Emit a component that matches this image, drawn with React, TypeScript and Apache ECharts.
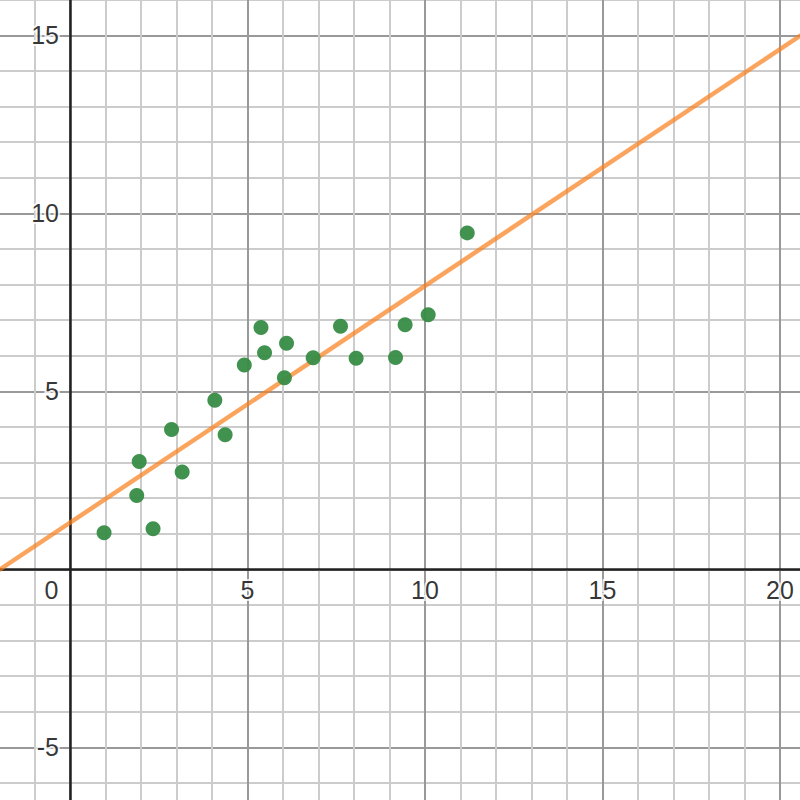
import * as echarts from 'echarts';
import { useEffect, useRef } from 'react';
import type { ECharts } from 'echarts';

// scatter points
const pointsX = [
  0.96, 1.88, 1.95, 2.34, 2.86, 3.16, 4.08, 4.37, 4.91, 5.38,
  5.48, 6.1, 6.04, 6.85, 7.62, 8.06, 9.17, 9.44, 10.09, 11.19,
];
const pointsY = [
  1.03, 2.07, 3.03, 1.14, 3.93, 2.73, 4.75, 3.78, 5.74, 6.79,
  6.08, 6.35, 5.38, 5.94, 6.83, 5.93, 5.95, 6.87, 7.15, 9.45,
];

// fitted line y = slope * x + intercept
const slope = 0.665;
const intercept = 1.31;
const lineXs = [-5, 25];

// tick labels drawn along the axes
const xTickLabels = [5, 10, 15, 20];
const yTickLabels = [15, 10, 5, -5];

const xMin = -5;
const xMax = 25;
const yMin = -10;
const yMax = 20;

const labelFont = {
  fontFamily: 'Liberation Sans, Arial, sans-serif',
  fontSize: 25,
  color: '#000',
  textBorderColor: '#fff',
  textBorderWidth: 4,
};

const GraphChart = () => {
  const chartRef = useRef<HTMLDivElement>(null);

  useEffect(() => {
    let chart: ECharts | null = null;
    if (chartRef.current !== null) {
      chart = echarts.init(chartRef.current, null, { renderer: 'svg' });
    }

    const hidden = { show: false };
    const gridAxis = (interval: number, color: string, width: number) => ({
      type: 'value',
      interval,
      axisLine: { show: false, onZero: false },
      axisTick: hidden,
      axisLabel: hidden,
      splitLine: { show: true, lineStyle: { color, width } },
    });
    const mainAxis = {
      type: 'value',
      interval: 5,
      z: 3,
      axisLine: { show: true, onZero: true, onZeroAxisIndex: 2, lineStyle: { color: '#222', width: 2.5 } },
      axisTick: hidden,
      axisLabel: hidden,
      splitLine: hidden,
    };

    const options = {
      animation: false,
      backgroundColor: '#fff',
      // the plot is larger than the page so that whole-number ticks line up
      grid: {
        left: -107.5,
        right: -157.5,
        top: -142.7,
        bottom: -125.3,
        outerBoundsMode: 'none',
        containLabel: false,
      },
      xAxis: [
        { ...gridAxis(1, '#cccccc', 2), min: xMin, max: xMax },
        { ...gridAxis(5, '#999999', 2), min: xMin, max: xMax },
        { ...mainAxis, min: xMin, max: xMax, position: 'bottom' },
      ],
      yAxis: [
        { ...gridAxis(1, '#cccccc', 2), min: yMin, max: yMax },
        { ...gridAxis(5, '#999999', 2), min: yMin, max: yMax },
        { ...mainAxis, min: yMin, max: yMax, position: 'left' },
      ],
      series: [
        {
          type: 'line',
          z: 9,
          symbol: 'none',
          silent: true,
          lineStyle: { color: '#fa7e19', width: 4.5, opacity: 0.7 },
          data: lineXs.map((x) => [x, slope * x + intercept]),
        },
        {
          type: 'scatter',
          z: 10,
          symbolSize: 15,
          itemStyle: { color: '#388c46', opacity: 0.95 },
          data: pointsX.map((x, i) => [x, pointsY[i]]),
        },
        {
          // axis tick labels placed through the axis scales
          type: 'scatter',
          z: 4,
          symbolSize: 0,
          silent: true,
          label: { show: true, ...labelFont, formatter: (p: any) => p.name },
          data: [
            {
              name: '0',
              value: [0, 0],
              label: { position: 'bottom', distance: 8, offset: [-18.5, 0] },
            },
            ...xTickLabels.map((v) => ({
              name: String(v),
              value: [v, 0],
              label: { position: 'bottom', distance: 8 },
            })),
            ...yTickLabels.map((v) => ({
              name: String(v),
              value: [0, v],
              label: { position: 'left', distance: 11 },
            })),
          ],
        },
      ],
    };

    chart?.setOption(options);

    return () => {
      chart?.dispose();
      chart = null;
    };
  }, []);

  return (
    <div
      ref={chartRef}
      style={{ position: 'fixed', left: 0, top: 0, width: 800, height: 800 }}
    ></div>
  );
};

export default function App() {
  return <GraphChart />;
}
